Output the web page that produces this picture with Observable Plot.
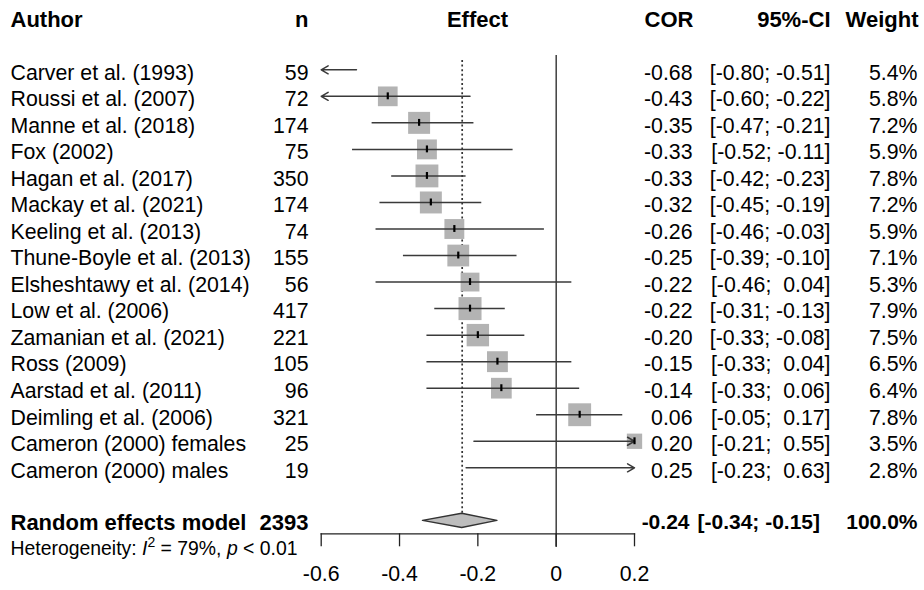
<!DOCTYPE html>
<html><head><meta charset="utf-8">
<script src="https://cdn.jsdelivr.net/npm/d3@7"></script>
<script src="https://cdn.jsdelivr.net/npm/@observablehq/plot@0.6"></script>
<style>
body{margin:0;background:#fff}
#chart svg text{white-space:pre}
</style>
</head><body><div id="chart"></div>
<script>
// ---- data ----
const authors = ["Carver et al. (1993)","Roussi et al. (2007)","Manne et al. (2018)","Fox (2002)","Hagan et al. (2017)","Mackay et al. (2021)","Keeling et al. (2013)","Thune-Boyle et al. (2013)","Elsheshtawy et al. (2014)","Low et al. (2006)","Zamanian et al. (2021)","Ross (2009)","Aarstad et al. (2011)","Deimling et al. (2006)","Cameron (2000) females","Cameron (2000) males"];
const ns = [59,72,174,75,350,174,74,155,56,417,221,105,96,321,25,19];
const cors = [-0.68,-0.43,-0.35,-0.33,-0.33,-0.32,-0.26,-0.25,-0.22,-0.22,-0.20,-0.15,-0.14,0.06,0.20,0.25];
const lowers = [-0.80,-0.60,-0.47,-0.52,-0.42,-0.45,-0.46,-0.39,-0.46,-0.31,-0.33,-0.33,-0.33,-0.05,-0.21,-0.23];
const uppers = [-0.51,-0.22,-0.21,-0.11,-0.23,-0.19,-0.03,-0.10,0.04,-0.13,-0.08,0.04,0.06,0.17,0.55,0.63];
const weights = [5.4,5.8,7.2,5.9,7.8,7.2,5.9,7.1,5.3,7.9,7.5,6.5,6.4,7.8,3.5,2.8];

const summaryLabel = "Random effects model";
const summaryN = 2393;
const summaryCor = -0.24;
const summaryLower = -0.34;
const summaryUpper = -0.15;
const summaryWeight = 100.0;
const heterogeneityI2 = 79;
const heterogeneityP = "< 0.01";

const headers = ["Author","n","Effect","COR","95%-CI","Weight"];
const xTicks = [-0.6,-0.4,-0.2,0,0.2];

// ---- derived table ----
const xMin = d3.min(xTicks), xMax = d3.max(xTicks);
const fmt2 = v => v.toFixed(2);
const ciText = (lo, hi) => "[" + fmt2(lo) + ";" + (hi >= 0 ? "  " : " ") + fmt2(hi) + "]";
const rows = authors.map((a, i) => ({
  row: i, author: a, n: ns[i], cor: cors[i], lower: lowers[i], upper: uppers[i], weight: weights[i]
}));
const summaryRow = rows.length + 1;
const headerRow = -2;

const leftClip = rows.filter(d => d.lower <= xMin);
const rightClip = rows.filter(d => d.upper > xMax);
const inRange = rows.filter(d => d.lower > xMin && d.upper <= xMax);
const visibleEst = rows.filter(d => d.cor >= xMin && d.cor <= xMax);

const diamondH = 0.265;
const diamond = [
  {x: summaryLower, y1: summaryRow, y2: summaryRow},
  {x: summaryCor, y1: summaryRow - diamondH, y2: summaryRow + diamondH},
  {x: summaryUpper, y1: summaryRow, y2: summaryRow}
];

const FONT = "Liberation Sans, Arial, Helvetica, sans-serif";
const mL = 320.7, mR = 924 - 634;
const px = p => p - mL; // pixel position -> dx from frame left

const textBase = {frameAnchor: "left", fontSize: 21.3, fill: "#000", dy: 3};
const boldBase = {frameAnchor: "left", fontSize: 22, fill: "#000", dy: 3, fontWeight: "bold"};
const boldSum = {...boldBase, dy: 1.8};
const boldNum = {...boldSum, fontSize: 21};

const chart = Plot.plot({
  width: 924,
  height: 590,
  marginLeft: mL,
  marginRight: mR,
  marginTop: 40,
  marginBottom: 590 - 533.3,
  style: {fontFamily: FONT, background: "#fff", overflow: "visible"},
  x: {domain: [xMin, xMax], ticks: xTicks},
  y: {domain: [0, rows.length - 1], range: [69.3, 467.3], axis: null},
  r: {type: "sqrt", domain: [0, 7.8], range: [0, 12.9]},
  marks: [
    // axis
    Plot.frame({anchor: "bottom", stroke: "#222", strokeWidth: 1.3}),
    Plot.axisX({ticks: xTicks, tickSize: 13, tickPadding: 19, fontSize: 21.3, stroke: "#222", strokeWidth: 1.3,
      tickFormat: d => String(d), fill: "#000"}),
    // reference lines
    Plot.ruleX([0], {y1: -0.54, y2: summaryRow + 1, stroke: "#222", strokeWidth: 1.3}),
    Plot.ruleX([summaryCor], {y1: -0.35, y2: summaryRow - diamondH, stroke: "#333", strokeWidth: 1.7, strokeDasharray: "2,2.6"}),
    // squares
    Plot.dot(visibleEst, {x: "cor", y: "row", r: "weight", symbol: "square", fill: "#b3b3b3", stroke: null}),
    // CI lines
    Plot.ruleY(inRange, {y: "row", x1: "lower", x2: "upper", stroke: "#3a3a3a", strokeWidth: 1.5}),
    Plot.arrow(leftClip, {x1: d => Math.min(d.upper, xMax), y1: "row", x2: () => xMin, y2: "row", stroke: "#3a3a3a", strokeWidth: 1.5, headLength: 8, headAngle: 60}),
    Plot.arrow(rightClip, {x1: "lower", y1: "row", x2: () => xMax, y2: "row", stroke: "#3a3a3a", strokeWidth: 1.5, headLength: 8, headAngle: 60}),
    // estimate ticks
    Plot.ruleX(visibleEst, {x: "cor", y1: d => d.row - 0.13, y2: d => d.row + 0.13, stroke: "#000", strokeWidth: 2.2}),
    // diamond
    Plot.areaY(diamond, {x: "x", y1: "y1", y2: "y2", fill: "#bdbdbd", stroke: "#333", strokeWidth: 1.5}),
    // headers
    Plot.text([headers[0]], {...boldBase, y: () => headerRow, text: d => d, dx: px(10), textAnchor: "start"}),
    Plot.text([headers[1]], {...boldBase, y: () => headerRow, text: d => d, dx: px(308), textAnchor: "end"}),
    Plot.text([headers[2]], {...boldBase, y: () => headerRow, text: d => d, dx: px(477), textAnchor: "middle"}),
    Plot.text([headers[3]], {...boldBase, y: () => headerRow, text: d => d, dx: px(693), textAnchor: "end"}),
    Plot.text([headers[4]], {...boldBase, y: () => headerRow, text: d => d, dx: px(830), textAnchor: "end"}),
    Plot.text([headers[5]], {...boldBase, y: () => headerRow, text: d => d, dx: px(918), textAnchor: "end"}),
    // study rows
    Plot.text(rows, {...textBase, y: "row", text: "author", dx: px(10), textAnchor: "start"}),
    Plot.text(rows, {...textBase, y: "row", text: d => String(d.n), dx: px(308), textAnchor: "end"}),
    Plot.text(rows, {...textBase, y: "row", text: d => fmt2(d.cor), dx: px(692), textAnchor: "end"}),
    Plot.text(rows, {...textBase, y: "row", text: d => ciText(d.lower, d.upper), dx: px(830), textAnchor: "end"}),
    Plot.text(rows, {...textBase, y: "row", text: d => d.weight.toFixed(1) + "%", dx: px(917), textAnchor: "end"}),
    // summary row
    Plot.text([summaryLabel], {...boldSum, y: () => summaryRow, text: d => d, dx: px(10), textAnchor: "start"}),
    Plot.text([summaryN], {...boldSum, y: () => summaryRow, text: d => String(d), dx: px(308), textAnchor: "end"}),
    Plot.text([summaryCor], {...boldNum, y: () => summaryRow, text: d => fmt2(d), dx: px(689), textAnchor: "end"}),
    Plot.text([[summaryLower, summaryUpper]], {...boldNum, y: () => summaryRow, text: d => ciText(d[0], d[1]), dx: px(697), textAnchor: "start"}),
    Plot.text([summaryWeight], {...boldNum, y: () => summaryRow, text: d => d.toFixed(1) + "%", dx: px(917), textAnchor: "end"}),
    // heterogeneity
    Plot.text(["het"], {frameAnchor: "left", y: () => summaryRow + 1, dy: 1.5, fontSize: 19.4, fill: "#000",
      text: () => "Heterogeneity: I2 = " + heterogeneityI2 + "%, p " + heterogeneityP, dx: px(10), textAnchor: "start",
      className: "het"})
  ]
});

// rich formatting for the heterogeneity line (italic I, superscript 2, italic p)
const het = d3.select(chart).select("g.het text");
if (!het.empty()) {
  het.text(null);
  het.append("tspan").text("Heterogeneity: ");
  het.append("tspan").attr("font-style", "italic").text("I");
  het.append("tspan").attr("font-size", 14).attr("dy", -8).text("2");
  het.append("tspan").attr("dy", 8).text(" = " + heterogeneityI2 + "%, ");
  het.append("tspan").attr("font-style", "italic").text("p");
  het.append("tspan").text(" " + heterogeneityP);
}

document.getElementById("chart").appendChild(chart);
</script>
</body></html>
